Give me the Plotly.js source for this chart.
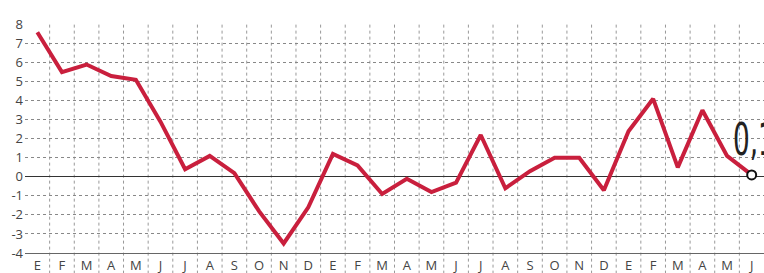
<!DOCTYPE html>
<html>
<head>
<meta charset="utf-8">
<script src="https://cdn.plot.ly/plotly-3.0.1.min.js"></script>
<style>html,body{margin:0;padding:0;background:#fff;overflow:hidden}#chart{width:764px;height:273px}</style>
</head>
<body>
<div id="chart"></div>
<script>
const months = ["E","F","M","A","M","J","J","A","S","O","N","D","E","F","M","A","M","J","J","A","S","O","N","D","E","F","M","A","M","J"];
const values = [7.6,5.5,5.9,5.3,5.1,2.9,0.4,1.1,0.2,-1.8,-3.5,-1.6,1.2,0.6,-0.9,-0.1,-0.8,-0.3,2.2,-0.6,0.3,1.0,1.0,-0.7,2.4,4.1,0.5,3.5,1.1,0.1];
const yTicks = [-4,-3,-2,-1,0,1,2,3,4,5,6,7,8];

const idx = months.map((m, i) => i);
const lastI = idx[idx.length - 1];
const lastV = values[values.length - 1];

const shapes = idx.slice(0, -1).map(i => ({
  type: 'line', xref: 'x', yref: 'paper',
  x0: i + 0.5, x1: i + 0.5, y0: -0.09, y1: 1,
  line: {color: '#999999', width: 1, dash: 'dot'}, layer: 'below'
}));

const traces = [
  {x: idx, y: values, type: 'scatter', mode: 'lines',
   line: {color: '#c91f3d', width: 4}, hoverinfo: 'skip'},
  {x: [lastI], y: [lastV], type: 'scatter', mode: 'markers',
   marker: {size: 9, color: '#ffffff', line: {color: '#111111', width: 2}}, hoverinfo: 'skip'}
];

const layout = {
  width: 764, height: 273,
  margin: {l: 25, r: 0, t: 24, b: 20, pad: 0},
  paper_bgcolor: '#ffffff', plot_bgcolor: '#ffffff',
  showlegend: false,
  font: {family: 'Open Sans, sans-serif', size: 13, color: '#444'},
  xaxis: {
    range: [-0.5, 29.5], tickvals: idx, ticktext: months,
    showgrid: false, zeroline: false, ticks: '',
    showline: true, linecolor: '#666', linewidth: 1,
    tickfont: {family: 'Open Sans, sans-serif', size: 13, color: '#444'},
    ticklabelstandoff: 0, fixedrange: true
  },
  yaxis: {
    range: [-4, 8.03], tickvals: yTicks, ticktext: yTicks.map(String),
    showgrid: true, gridcolor: '#888', griddash: 'dot', gridwidth: 1,
    zeroline: true, zerolinecolor: '#333', zerolinewidth: 1,
    ticks: '', showline: false,
    tickfont: {family: 'Open Sans, sans-serif', size: 13, color: '#444'},
    ticklabelstandoff: 1, fixedrange: true
  },
  shapes: shapes,
  annotations: [{
    x: lastI, y: lastV, xref: 'x', yref: 'y',
    text: String(lastV).replace('.', ','), showarrow: false,
    xanchor: 'left', yanchor: 'bottom', xshift: -21, yshift: 7,
    font: {family: 'Liberation Sans Narrow, DejaVu Sans Condensed, sans-serif', size: 45, color: '#222'}
  }]
};

Plotly.newPlot('chart', traces, layout, {staticPlot: true, displayModeBar: false}).then(() => {
  const t = document.querySelector('.annotation-text');
  if (t) {
    const bb = t.getBBox();
    const x0 = bb.x;
    t.setAttribute('transform', `translate(${x0},0) scale(0.65,1) translate(${-x0},0)`);
  }
});
</script>
</body>
</html>
